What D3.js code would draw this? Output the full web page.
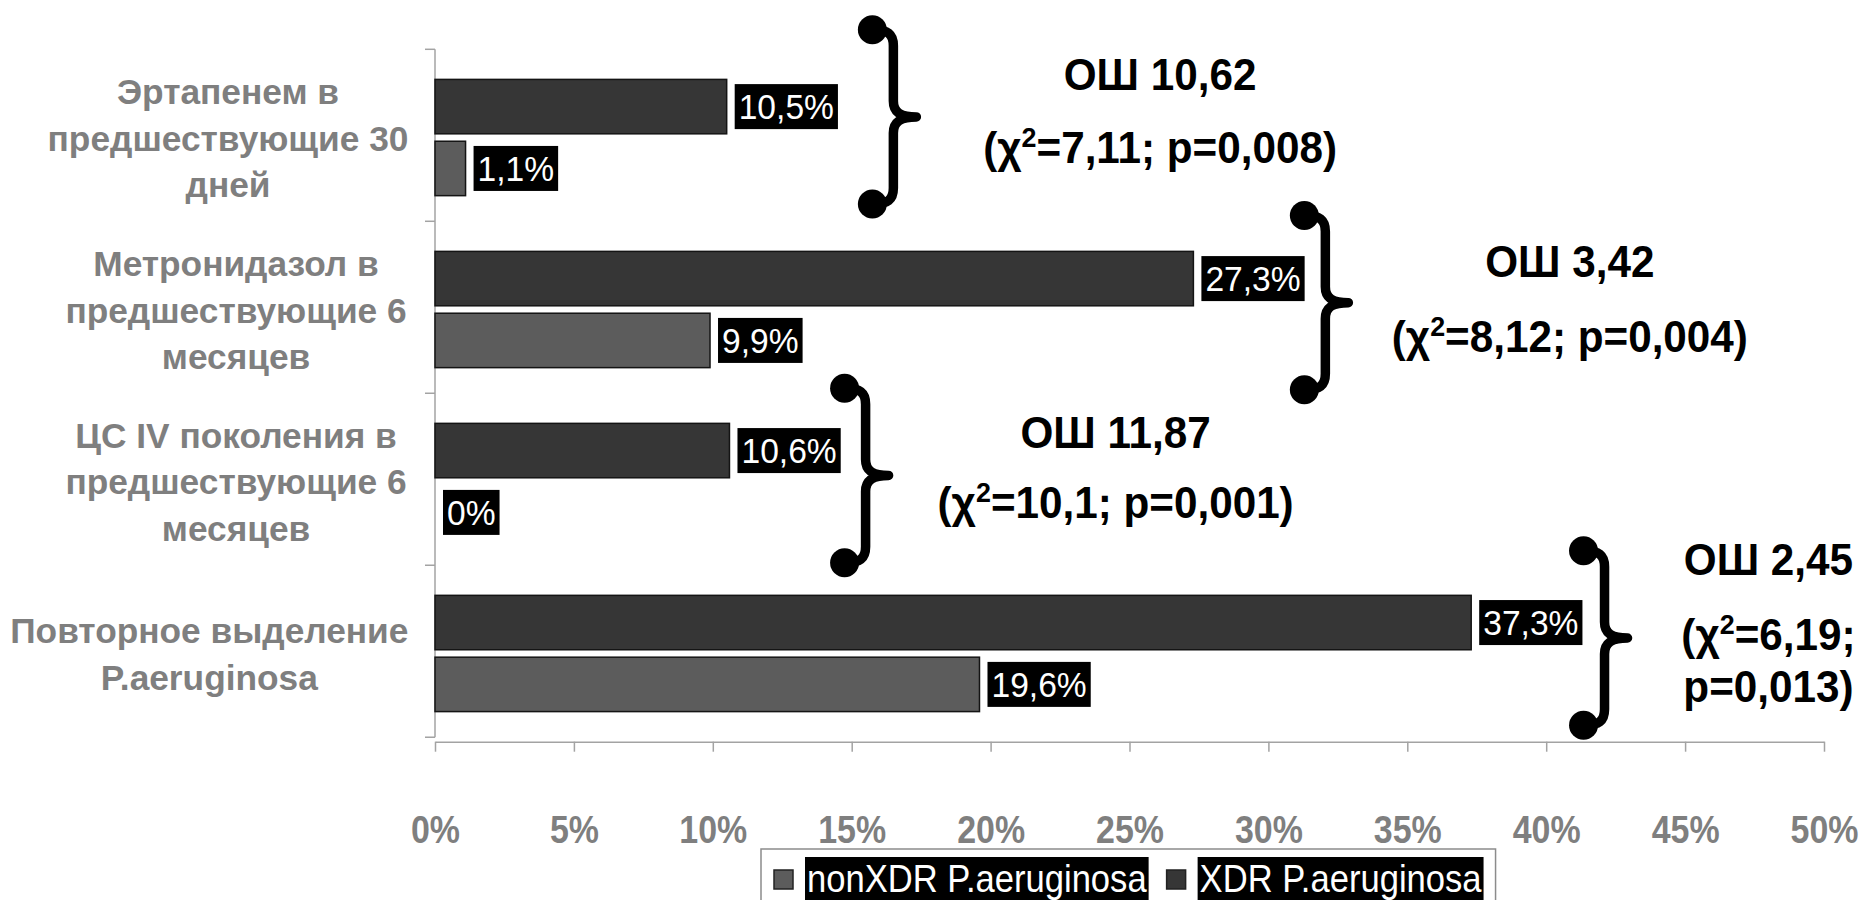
<!DOCTYPE html>
<html>
<head>
<meta charset="utf-8">
<script src="https://cdn.jsdelivr.net/npm/d3@7"></script>
<style>
  html, body { margin: 0; padding: 0; background: #fff; }
  svg { display: block; }
  text { font-family: "Liberation Sans", Arial, sans-serif; }
</style>
</head>
<body>
<svg id="chart" width="1865" height="900"></svg>
<script>
// Category labels (one entry per line of the label)
const categories = [
  ["Эртапенем в", "предшествующие 30", "дней"],
  ["Метронидазол в", "предшествующие 6", "месяцев"],
  ["ЦС IV поколения в", "предшествующие 6", "месяцев"],
  ["Повторное выделение", "P.aeruginosa"]
];

// Share of patients, %
const xdrValues    = [10.5, 27.3, 10.6, 37.3];
const nonXdrValues = [1.1, 9.9, 0, 19.6];
const valueLabelsXdr    = ["10,5%", "27,3%", "10,6%", "37,3%"];
const valueLabelsNonXdr = ["1,1%", "9,9%", "0%", "19,6%"];

// Odds ratios and test statistics for each factor
const oddsRatios = ["ОШ 10,62", "ОШ 3,42", "ОШ 11,87", "ОШ 2,45"];
const chiSquare  = ["7,11", "8,12", "10,1", "6,19"];
const pValues    = ["0,008", "0,004", "0,001", "0,013"];

// Axis ticks, %
const xTicks = [0, 5, 10, 15, 20, 25, 30, 35, 40, 45, 50];

const seriesNames = ["nonXDR P.aeruginosa", "XDR P.aeruginosa"];

// ---- layout & style ----
const colors = { xdr: "#363636", non: "#5c5c5c", edge: "#141414", axis: "#a3a3a3", label: "#7f7f7f" };
// text styles: size in px and horizontal squeeze of the glyphs
const tickStyle = { size: 39, sx: 0.87 };
const catStyle  = { size: 36, sx: 0.98 };
const annStyle  = { size: 44, sx: 0.96 };
const legStyle  = { size: 38, sx: 0.91 };

// brace + annotation placement per factor (x in axis %, y in category steps from band centre)
const braceLayout = [
  { x: 16.5, shift: -0.12, textX: 26.1, lines: [-0.275, 0.15] },
  { x: 32.05, shift: -0.04, textX: 40.85, lines: [-0.19, 0.245] },
  { x: 15.5, shift: -0.035, textX: 24.5, lines: [-0.195, 0.21] },
  { x: 42.1, shift: -0.09, textX: 48.0, lines: [-0.455, -0.02, 0.285] }
];

const svg = d3.select("#chart");

const x = d3.scaleLinear().domain([0, 50]).range([435, 1824]);
const y = d3.scaleBand().domain(d3.range(categories.length))
  .range([49.3, 741.7]).paddingInner(0.324).paddingOuter(0.175);
const step = y.step();
const top0 = 49.3;
const ySub = d3.scaleBand().domain(["xdr", "non"]).range([0, y.bandwidth()]).paddingInner(0.12);

// ---- axes ----
const xAxis = d3.axisBottom(x).tickValues(xTicks).tickSize(10).tickSizeOuter(0)
  .tickFormat(d => d + "%");
const gx = svg.append("g").attr("transform", `translate(0,${741.7})`).call(xAxis);
gx.select(".domain").attr("stroke", colors.axis).attr("stroke-width", 1.5);
gx.selectAll(".tick line").attr("stroke", colors.axis).attr("stroke-width", 1.5);
gx.selectAll(".tick text")
  .attr("y", 0).attr("dy", 0)
  .attr("transform", `translate(0,101) scale(${tickStyle.sx},1)`)
  .attr("fill", colors.label)
  .style("font-family", "\"Liberation Sans\", Arial, sans-serif")
  .style("font-size", tickStyle.size + "px").style("font-weight", "bold");

// category axis: vertical line plus separators between categories
svg.append("line")
  .attr("x1", x(0)).attr("x2", x(0)).attr("y1", top0).attr("y2", top0 + step * categories.length)
  .attr("stroke", colors.axis).attr("stroke-width", 1.5);
svg.append("g").selectAll("line").data(d3.range(categories.length + 1)).join("line")
  .attr("x1", x(0) - 10).attr("x2", x(0))
  .attr("y1", i => top0 + i * step).attr("y2", i => top0 + i * step)
  .attr("stroke", colors.axis).attr("stroke-width", 1.5);

// category labels: block of lines centred together, kept clear of the axis
const catG = svg.append("g");
categories.forEach((lines, i) => {
  const cy = y(i) + y.bandwidth() / 2;
  const n = lines.length;
  const texts = lines.map(line => catG.append("text")
    .attr("text-anchor", "middle")
    .attr("fill", colors.label)
    .style("font-size", catStyle.size + "px").style("font-weight", "bold")
    .attr("x", 0).attr("y", 0)
    .text(line));
  const maxW = d3.max(texts, t => t.node().getComputedTextLength() * catStyle.sx);
  const cx = Math.min(236, 408.5 - maxW / 2);
  texts.forEach((t, j) => {
    const by = cy + (j - (n - 1) / 2) * 46.5 + 13;
    t.attr("transform", `translate(${cx},${by}) scale(${catStyle.sx},1)`);
  });
});

// ---- bars ----
const rows = categories.map((c, i) => ({ i, xdr: xdrValues[i], non: nonXdrValues[i],
  lx: valueLabelsXdr[i], ln: valueLabelsNonXdr[i] }));

const barG = svg.append("g");
["xdr", "non"].forEach(key => {
  barG.selectAll(null).data(rows).join("rect")
    .attr("x", x(0))
    .attr("y", d => y(d.i) + ySub(key))
    .attr("width", d => x(d[key]) - x(0))
    .attr("height", ySub.bandwidth())
    .attr("fill", colors[key])
    .attr("stroke", d => d[key] > 0 ? colors.edge : "none")
    .attr("stroke-width", 1.5);
});

// value labels: white text on black boxes
const labG = svg.append("g");
["xdr", "non"].forEach(key => {
  rows.forEach(d => {
    const cy = y(d.i) + ySub(key) + ySub.bandwidth() / 2;
    const bx = x(d[key]) + 8;
    const g = labG.append("g");
    const rect = g.append("rect").attr("fill", "#000");
    const t = g.append("text")
      .attr("x", 0).attr("y", 0)
      .attr("transform", `translate(${bx + 4},${cy + 12.5}) scale(0.96,1)`)
      .attr("fill", "#fff")
      .style("font-size", "35px")
      .text(key === "xdr" ? d.lx : d.ln);
    const w = t.node().getComputedTextLength() * 0.96;
    rect.attr("x", bx).attr("y", cy - 22.5).attr("width", w + 8).attr("height", 45);
  });
});

// ---- braces ----
function bracePath(xs, yc, half) {
  const yt = yc - half, yb = yc + half;
  const ball = 20, tip = 23;
  return [
    `M${xs - ball},${yt}`,
    `C${xs - 6},${yt} ${xs},${yt + 4} ${xs},${yt + 16}`,
    `L${xs},${yc - 16}`,
    `C${xs},${yc - 4} ${xs + 8},${yc} ${xs + tip},${yc}`,
    `C${xs + 8},${yc} ${xs},${yc + 4} ${xs},${yc + 16}`,
    `L${xs},${yb - 16}`,
    `C${xs},${yb - 4} ${xs - 6},${yb} ${xs - ball},${yb}`
  ].join(" ");
}

const braceG = svg.append("g");
braceLayout.forEach((b, i) => {
  const xs = x(b.x);
  const yc = y(i) + y.bandwidth() / 2 + b.shift * step;
  const half = 0.507 * step;
  braceG.append("path")
    .attr("d", bracePath(xs, yc, half))
    .attr("fill", "none").attr("stroke", "#000")
    .attr("stroke-width", 9.5).attr("stroke-linecap", "round").attr("stroke-linejoin", "round");
  [yc - half, yc + half].forEach(yy => {
    braceG.append("circle").attr("cx", xs - 21).attr("cy", yy).attr("r", 14.5).attr("fill", "#000");
  });
});

// ---- odds ratio annotations ----
const annG = svg.append("g");
function statLine(sel, chi, p, partial) {
  sel.append("tspan").text("(χ");
  sel.append("tspan").attr("dy", -16).style("font-size", "28px").text("2");
  if (partial === "first") {
    sel.append("tspan").attr("dy", 16).text(`=${chi};`);
  } else {
    sel.append("tspan").attr("dy", 16).text(`=${chi}; p=${p})`);
  }
}
braceLayout.forEach((b, i) => {
  const cx = x(b.textX);
  const yc = y(i) + y.bandwidth() / 2;
  const mk = (k) => annG.append("text")
    .attr("x", 0).attr("y", 0)
    .attr("transform", `translate(${cx},${yc + b.lines[k] * step}) scale(${annStyle.sx},1)`)
    .attr("text-anchor", "middle").attr("fill", "#000")
    .style("font-size", annStyle.size + "px").style("font-weight", "bold");
  mk(0).text(oddsRatios[i]);
  if (b.lines.length === 2) {
    statLine(mk(1), chiSquare[i], pValues[i]);
  } else {
    statLine(mk(1), chiSquare[i], pValues[i], "first");
    mk(2).text(`p=${pValues[i]})`);
  }
});

// ---- legend ----
const legG = svg.append("g");
const legendBox = legG.append("rect")
  .attr("fill", "#fff").attr("stroke", "#8c8c8c").attr("stroke-width", 1.5);
let lx = 774;
const legendColors = [colors.non, colors.xdr];
seriesNames.forEach((name, k) => {
  legG.append("rect").attr("x", lx).attr("y", 870).attr("width", 19).attr("height", 19)
    .attr("fill", legendColors[k]).attr("stroke", "#222").attr("stroke-width", 1.5);
  const bg = legG.append("rect").attr("fill", "#000");
  const t = legG.append("text").attr("x", 0).attr("y", 0)
    .attr("transform", `translate(${lx + 33},${892}) scale(${legStyle.sx},1)`)
    .attr("fill", "#fff").style("font-size", legStyle.size + "px").text(name);
  const w = t.node().getComputedTextLength() * legStyle.sx;
  bg.attr("x", lx + 31).attr("y", 857).attr("width", w + 4).attr("height", 50);
  lx += 31 + w + 4 + 18;
});
legendBox.attr("x", 761).attr("y", 849).attr("width", lx - 18 + 12 - 761).attr("height", 70);
</script>
</body>
</html>
